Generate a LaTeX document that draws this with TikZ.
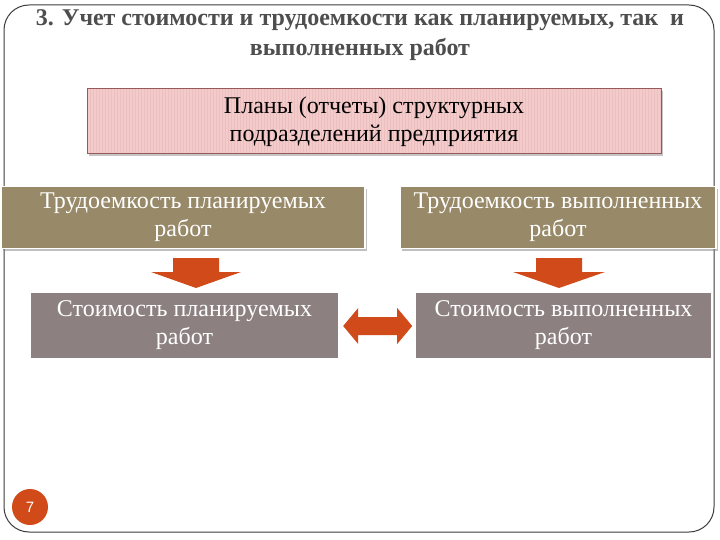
\documentclass[tikz,border=0pt]{standalone}
\usepackage{fontspec}
\setmainfont{Liberation Serif}
\setsansfont{Liberation Sans}
\usetikzlibrary{shadows,shapes.arrows,shapes.geometric}
\definecolor{titlegray}{RGB}{78,78,78}
\definecolor{pinkfill}{RGB}{243,203,203}
\definecolor{pinkstripe}{RGB}{236,190,190}
\definecolor{pinkdraw}{RGB}{150,90,90}
\definecolor{tanfill}{RGB}{152,137,104}
\definecolor{mauvefill}{RGB}{140,128,128}
\definecolor{arroworange}{RGB}{208,74,26}
\definecolor{framegray}{RGB}{60,60,60}
\tikzset{
  titletext/.style={font=\fontsize{24}{30}\selectfont\bfseries, text=titlegray, align=center},
  planbox/.style={draw=pinkdraw, line width=0.8pt, fill=pinkfill, minimum width=574pt, minimum height=65pt,
    font=\fontsize{24}{28}\selectfont, align=center, inner sep=0pt,
    drop shadow={opacity=0.45, shadow xshift=2pt, shadow yshift=-3pt},
    path picture={\foreach \i in {0,3,...,580}{\draw[pinkstripe, line width=0.8pt] ([xshift=\i pt]path picture bounding box.north west) -- ([xshift=\i pt]path picture bounding box.south west);}}},
  tanbox/.style={draw=white, line width=1.5pt, fill=tanfill, minimum height=62pt, text=white,
    font=\fontsize{24}{28}\selectfont, align=center, inner sep=0pt,
    drop shadow={opacity=0.5, shadow xshift=1.5pt, shadow yshift=-2.5pt}},
  mauvebox/.style={fill=mauvefill, minimum height=65pt, text=white,
    font=\fontsize{24}{28}\selectfont, align=center, inner sep=0pt},
  downarrow/.style={fill=arroworange},
  pagecircle/.style={circle, fill=arroworange, minimum size=36pt, inner sep=0pt, text=white,
    font=\sffamily\fontsize{15}{16}\selectfont},
}
\begin{document}
\begin{tikzpicture}[x=1pt,y=-1pt]
\useasboundingbox (0,0) rectangle (720,540);
\fill[white] (0,0) rectangle (720,540);
% frame
\draw[framegray, line width=1pt, rounded corners=25pt] (4,5) rectangle (714,532);
% title
\node[titletext] (title) at (360,35) {3. Учет стоимости и трудоемкости как планируемых, так\ \ и\\выполненных работ};
% plan box
\node[planbox] (plan) at (374,120.5) {\strut Планы (отчеты) структурных\\подразделений предприятия};
% tan boxes
\node[tanbox, minimum width=364pt] (tl) at (183,217.5) {Трудоемкость планируемых\\работ};
\node[tanbox, minimum width=316pt] (tr) at (558,217.5) {Трудоемкость выполненных\\работ};
% mauve boxes
\node[mauvebox, minimum width=307pt] (bl) at (184.5,325) {Стоимость планируемых\\работ};
\node[mauvebox, minimum width=295pt] (br) at (563.5,325) {Стоимость выполненных\\работ};
% down arrows
\coordinate (la) at (196,258);
\coordinate (ra) at (559,258);
\fill[downarrow] (la) ++(-23,0) -- ++(46,0) -- ++(0,14) -- ++(22,0) -- ++(-45,16) -- ++(-45,-16) -- ++(22,0) -- cycle;
\fill[downarrow] (ra) ++(-23,0) -- ++(46,0) -- ++(0,14) -- ++(23,0) -- ++(-46,16) -- ++(-46,-16) -- ++(23,0) -- cycle;
% double arrow
\fill[downarrow] (bl.east) ++(5,1) -- ++(15,-18) -- ++(0,9) -- ++(39,0) -- ++(0,-9) -- ++(15,18) -- ++(-15,18) -- ++(0,-9) -- ++(-39,0) -- ++(0,9) -- cycle;
% page number
\node[pagecircle] (page) at (30,507) {7};
\end{tikzpicture}
\end{document}
